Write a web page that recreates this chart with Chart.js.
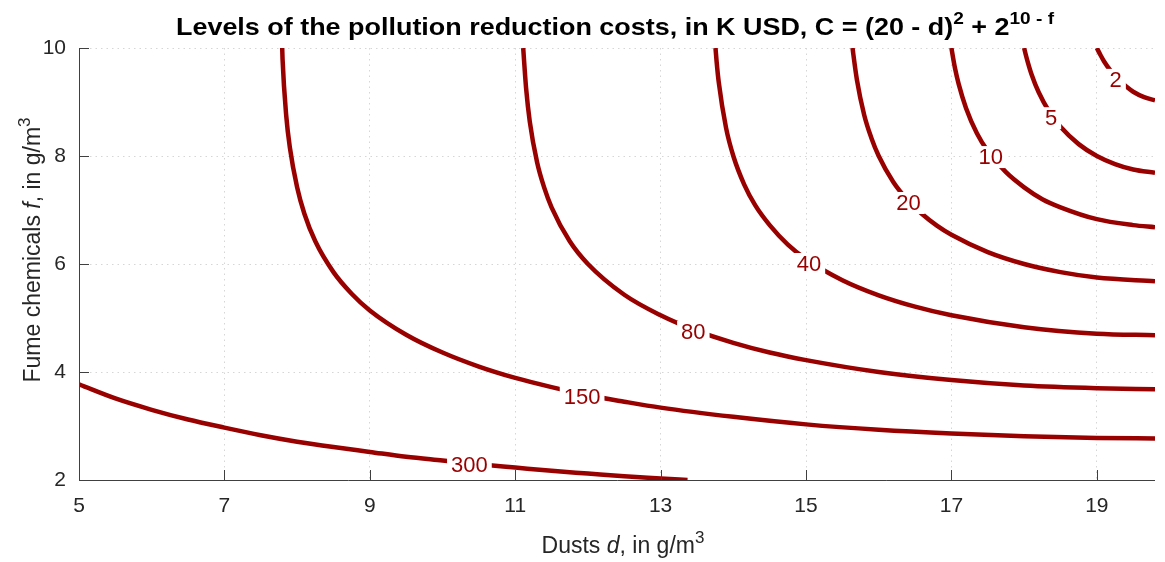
<!DOCTYPE html>
<html>
<head>
<meta charset="utf-8">
<script src="https://cdn.jsdelivr.net/npm/chart.js@4.4.1/dist/chart.umd.min.js"></script>
<style>
  html, body { margin: 0; padding: 0; background: #fff; }
  #wrap { width: 1165px; height: 562px; position: relative; }
</style>
</head>
<body>
<div id="wrap"><canvas id="grafik"></canvas></div>
<script>
// contour levels (K USD) and the points of each level line
const levels = [2, 5, 10, 20, 40, 80, 150, 300];

const dust2 = [19.0, 19.05, 19.1, 19.2, 19.3, 19.4, 19.5, 19.65, 19.8];
const fume2 = [10.0, 9.87, 9.75, 9.56, 9.41, 9.29, 9.19, 9.09, 9.03];

const dust5 = [18.0, 18.02, 18.05, 18.1, 18.2, 18.35, 18.5, 18.75, 19.0, 19.25, 19.5, 19.8];
const fume5 = [10.0, 9.89, 9.74, 9.52, 9.18, 8.81, 8.54, 8.22, 8.00, 7.85, 7.75, 7.69];

const dust10 = [17.0, 17.02, 17.05, 17.1, 17.2, 17.35, 17.5, 17.75, 18.0, 18.25, 18.5, 19.0, 19.5, 19.8];
const fume10 = [10.0, 9.84, 9.62, 9.33, 8.89, 8.42, 8.09, 7.70, 7.42, 7.20, 7.05, 6.83, 6.72, 6.68];

const dust20 = [15.64, 15.65, 15.7, 15.8, 15.9, 16.0, 16.2, 16.4, 16.6, 16.8, 17.0, 17.5, 18.0, 18.5, 19.0, 19.8];
const fume20 = [10.0, 9.89, 9.41, 8.76, 8.33, 8.00, 7.52, 7.18, 6.92, 6.71, 6.54, 6.22, 6.00, 5.85, 5.75, 5.68];

const dust40 = [13.755, 13.77, 13.8, 13.9, 14.0, 14.15, 14.3, 14.5, 14.75, 15.0, 15.5, 16.0, 16.5, 17.0, 18.0, 19.0, 19.8];
const fume40 = [10.0, 9.75, 9.36, 8.52, 8.00, 7.47, 7.09, 6.72, 6.36, 6.09, 5.70, 5.42, 5.21, 5.05, 4.83, 4.71, 4.68];

const dust80 = [11.11, 11.12, 11.15, 11.2, 11.3, 11.4, 11.5, 11.75, 12.0, 12.5, 13.0, 13.5, 14.0, 14.5, 15.0, 16.0, 17.0, 18.0, 19.0, 19.8];
const fume80 = [10.0, 9.80, 9.25, 8.64, 7.89, 7.41, 7.05, 6.42, 6.00, 5.43, 5.05, 4.76, 4.54, 4.36, 4.22, 4.00, 3.85, 3.75, 3.70, 3.68];

const dust150 = [7.795, 7.8, 7.85, 7.9, 8.0, 8.1, 8.25, 8.5, 8.75, 9.0, 9.5, 10.0, 10.5, 11.0, 11.5, 12.0, 12.5, 13.0, 14.0, 15.0, 16.0, 17.0, 18.0, 19.0, 19.8];
const fume150 = [10.0, 9.79, 8.75, 8.16, 7.42, 6.93, 6.42, 5.85, 5.45, 5.14, 4.69, 4.36, 4.10, 3.89, 3.72, 3.57, 3.45, 3.34, 3.17, 3.03, 2.93, 2.86, 2.81, 2.78, 2.77];

const dust300 = [5.0, 5.5, 6.0, 6.5, 7.0, 7.5, 8.0, 8.5, 9.0, 9.5, 10.0, 10.5, 11.0, 11.5, 12.0, 12.5, 13.0, 13.37];
const fume300 = [3.77, 3.51, 3.30, 3.12, 2.97, 2.83, 2.71, 2.61, 2.52, 2.43, 2.36, 2.29, 2.23, 2.17, 2.12, 2.07, 2.03, 2.00];

// where the level numbers sit on the lines
const labelDust = [19.26, 18.37, 17.54, 16.41, 15.04, 13.45, 11.92, 10.37];
const labelFume = [9.41, 8.70, 7.98, 7.13, 6.00, 4.74, 3.54, 2.28];

const tickDust = [5, 7, 9, 11, 13, 15, 17, 19];
const tickFume = [2, 4, 6, 8, 10];

const garisDust = [dust2, dust5, dust10, dust20, dust40, dust80, dust150, dust300];
const garisFume = [fume2, fume5, fume10, fume20, fume40, fume80, fume150, fume300];

const MERAH = '#990000';
const TEKS = '#262626';
const HURUF = '"Liberation Sans", Arial, Helvetica, sans-serif';
const HURUF_JUDUL = '"Liberation Sans Narrow", "Arial Narrow", "Liberation Sans", Arial, sans-serif';

const datasets = levels.map((lv, i) => ({
    label: String(lv),
    data: garisDust[i].map((d, j) => ({ x: d, y: garisFume[i][j] })),
    showLine: true, borderColor: MERAH, borderWidth: 4.5, pointRadius: 0,
    cubicInterpolationMode: 'monotone', fill: false
}));

// draw a run of text pieces (normal / italic / superscript), aligned at its centre
function tulisKaya(ctx, parts, cx, y, size, bold, family, scaleTo) {
    const fontOf = p => `${p.it ? 'italic ' : ''}${bold ? 'bold ' : ''}${p.sup ? Math.round(size * 0.72) : size}px ${family}`;
    let total = 0;
    parts.forEach(p => { ctx.font = fontOf(p); p.w = ctx.measureText(p.t).width; total += p.w; });
    const sx = scaleTo ? scaleTo / total : 1;
    ctx.save();
    ctx.translate(cx - total * sx / 2, y);
    ctx.scale(sx, 1);
    let x = 0;
    parts.forEach(p => {
        ctx.font = fontOf(p);
        ctx.fillText(p.t, x, p.sup ? -size * 0.45 : 0);
        x += p.w;
    });
    ctx.restore();
}

function kotakLabel(chart) {
    const ctx = chart.ctx, sx = chart.scales.x, sy = chart.scales.y;
    ctx.font = `22px ${HURUF}`;
    return levels.map((lv, i) => {
        const w = ctx.measureText(String(lv)).width;
        return { t: String(lv), x: sx.getPixelForValue(labelDust[i]), y: sy.getPixelForValue(labelFume[i]), w };
    });
}

const pluginKontur = {
    id: 'pluginKontur',
    afterDatasetsDraw(chart) {
        // cut the lines where the level numbers go
        const ctx = chart.ctx;
        ctx.save();
        ctx.fillStyle = '#fff';
        kotakLabel(chart).forEach(b => ctx.fillRect(b.x - b.w / 2 - 4, b.y - 11, b.w + 8, 22));
        ctx.restore();
    },
    afterDraw(chart) {
        const ctx = chart.ctx, a = chart.chartArea;
        const sx = chart.scales.x, sy = chart.scales.y;
        ctx.save();
        // axes lines and inward ticks
        ctx.strokeStyle = '#404040';
        ctx.lineWidth = 1;
        ctx.beginPath();
        ctx.moveTo(a.left + 0.5, a.top);
        ctx.lineTo(a.left + 0.5, a.bottom + 0.5);
        ctx.lineTo(a.right, a.bottom + 0.5);
        tickDust.forEach(v => { const x = Math.round(sx.getPixelForValue(v)) + 0.5; ctx.moveTo(x, a.bottom); ctx.lineTo(x, a.bottom - 10); });
        tickFume.forEach(v => { const y = Math.round(sy.getPixelForValue(v)) + 0.5; ctx.moveTo(a.left, y); ctx.lineTo(a.left + 10, y); });
        ctx.stroke();

        // level numbers
        ctx.fillStyle = MERAH;
        ctx.font = `22px ${HURUF}`;
        ctx.textAlign = 'center';
        ctx.textBaseline = 'middle';
        kotakLabel(chart).forEach(b => ctx.fillText(b.t, b.x, b.y + 1));

        // title and axis titles
        ctx.textAlign = 'left';
        ctx.textBaseline = 'alphabetic';
        ctx.fillStyle = '#000';
        tulisKaya(ctx, [
            { t: 'Levels of the pollution reduction costs, in K USD, C = (20 - d)' },
            { t: '2', sup: true },
            { t: ' + 2' },
            { t: '10 - f', sup: true }
        ], 615, 35, 24, true, HURUF_JUDUL, 878);

        ctx.fillStyle = TEKS;
        tulisKaya(ctx, [
            { t: 'Dusts ' }, { t: 'd', it: true }, { t: ', in g/m' }, { t: '3', sup: true }
        ], 623, 553, 23, false, HURUF);

        ctx.save();
        ctx.translate(40, 250);
        ctx.rotate(-Math.PI / 2);
        tulisKaya(ctx, [
            { t: 'Fume chemicals ' }, { t: 'f', it: true }, { t: ', in g/m' }, { t: '3', sup: true }
        ], 0, 0, 23, false, HURUF);
        ctx.restore();
        ctx.restore();
    }
};

const gridOpsi = { color: '#d6d6d6', lineWidth: 1, drawTicks: false };

new Chart(document.getElementById('grafik').getContext('2d'), {
    type: 'scatter',
    data: { datasets },
    options: {
        responsive: true, maintainAspectRatio: false, animation: false,
        layout: { padding: { left: 0, right: 10, top: 48, bottom: 0 } },
        plugins: { legend: { display: false }, tooltip: { enabled: false }, title: { display: false } },
        scales: {
            x: {
                type: 'linear', min: 5, max: 19.8, z: 1,
                afterBuildTicks: s => { s.ticks = tickDust.map(v => ({ value: v })); },
                afterFit: s => { s.height = 82; },
                grid: gridOpsi,
                border: { display: false, dash: [1.5, 4] },
                ticks: { color: TEKS, font: { family: HURUF, size: 21 }, padding: 14, maxRotation: 0, autoSkip: false }
            },
            y: {
                type: 'linear', min: 2, max: 10, z: 1,
                afterBuildTicks: s => { s.ticks = tickFume.map(v => ({ value: v })); },
                afterFit: s => { s.width = 79; },
                grid: gridOpsi,
                border: { display: false, dash: [1.5, 4] },
                ticks: { color: TEKS, font: { family: HURUF, size: 21 }, padding: 13, autoSkip: false }
            }
        }
    },
    plugins: [pluginKontur]
});
</script>
</body>
</html>
